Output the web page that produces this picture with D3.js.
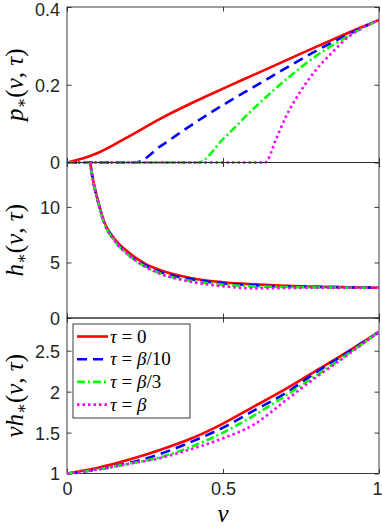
<!DOCTYPE html>
<html>
<head>
<meta charset="utf-8">
<script src="https://cdn.jsdelivr.net/npm/d3@7"></script>
<style>
  body { margin: 0; background: #fff; }
  svg { display: block; }
  .tick text { font-family: "Liberation Sans", Arial, sans-serif; font-size: 18px; fill: #262626; }
  .tick line { stroke: #262626; stroke-width: 0.9; }
</style>
</head>
<body>
<svg id="chart" width="382" height="529"></svg>
<script>
// ---- data ----
var names = ["0", "β/10", "β/3", "β"];
var colors = ["#ff0000", "#0000ff", "#00ff00", "#ff00ff"];
var dashes = [null, "10,6", "8,3,2,3", "2.5,3"];
var serif = "'Liberation Serif', 'DejaVu Serif', serif";

// panel 1: p*(nu, tau)
var nuP0 = [0, 0.05, 0.1, 0.2, 0.3, 0.4, 0.5, 0.6, 0.7, 0.8, 0.9, 1.0];
var pRed = [0, 0.01, 0.025, 0.068, 0.113, 0.153, 0.19, 0.226, 0.262, 0.298, 0.333, 0.367];
var nuP1 = [0, 0.22, 0.3, 0.4, 0.5, 0.6, 0.7, 0.8, 0.9, 1.0];
var pBlue = [0, 0, 0.042, 0.097, 0.148, 0.195, 0.242, 0.288, 0.329, 0.367];
var nuP2 = [0, 0.42, 0.5, 0.6, 0.7, 0.8, 0.9, 1.0];
var pGreen = [0, 0, 0.06, 0.14, 0.212, 0.275, 0.325, 0.367];
var nuP3 = [0, 0.635, 0.67, 0.7, 0.75, 0.8, 0.85, 0.9, 0.95, 1.0];
var pMag = [0, 0, 0.06, 0.115, 0.185, 0.24, 0.283, 0.322, 0.348, 0.367];

// panel 2: h*(nu, tau)
var nuH = [0.07, 0.08, 0.09, 0.1, 0.12, 0.15, 0.2, 0.25, 0.3, 0.4, 0.5, 0.6, 0.7, 0.8, 0.9, 1.0];
var hRed = [15, 13.0, 11.6, 10.5, 8.6, 7.2, 5.85, 4.9, 4.3, 3.58, 3.22, 3.03, 2.9, 2.82, 2.77, 2.73];
var hBlue = [15, 12.9, 11.5, 10.4, 8.5, 7.1, 5.65, 4.75, 4.13, 3.48, 3.12, 2.95, 2.83, 2.8, 2.76, 2.73];
var hGreen = [15, 12.9, 11.5, 10.4, 8.5, 7.05, 5.6, 4.65, 4.0, 3.33, 3.0, 2.85, 2.79, 2.75, 2.73, 2.73];
var hMag = [15, 12.9, 11.5, 10.4, 8.5, 7.05, 5.6, 4.62, 3.97, 3.25, 2.86, 2.67, 2.7, 2.73, 2.72, 2.73];

// panel 3: nu*h*(nu, tau)
var nuN = [0, 0.1, 0.2, 0.3, 0.4, 0.5, 0.6, 0.7, 0.8, 0.9, 1.0];
var nhRed = [1, 1.07, 1.17, 1.29, 1.43, 1.61, 1.82, 2.03, 2.26, 2.49, 2.73];
var nhBlue = [1, 1.05, 1.13, 1.24, 1.39, 1.56, 1.77, 1.98, 2.24, 2.48, 2.73];
var nhGreen = [1, 1.05, 1.12, 1.2, 1.33, 1.5, 1.71, 1.95, 2.2, 2.46, 2.73];
var nhMag = [1, 1.05, 1.12, 1.19, 1.3, 1.43, 1.6, 1.89, 2.18, 2.45, 2.73];

var xTicks = [0, 0.5, 1];

var panels = [
    { top: 7, domain: [0, 0.4], ticks: [0, 0.2, 0.4], fmt: function (d) { return d === 0 ? "0" : d3.format(".1f")(d); },
      lab: "p", pre: "",
      series: [[nuP0, pRed], [nuP1, pBlue], [nuP2, pGreen], [nuP3, pMag]] },
    { top: 162.5, domain: [0, 14], ticks: [0, 5, 10], fmt: d3.format("d"),
      lab: "h", pre: "",
      series: [[nuH, hRed], [nuH, hBlue], [nuH, hGreen], [nuH, hMag]] },
    { top: 318, domain: [1, 2.9], ticks: [1, 1.5, 2, 2.5], fmt: function (d) { return String(d); },
      lab: "h", pre: "ν",
      series: [[nuN, nhRed], [nuN, nhBlue], [nuN, nhGreen], [nuN, nhMag]] }
];

var left = 67, right = 379, ph = 155.5;
var svg = d3.select("#chart");
var x = d3.scaleLinear().domain([0, 1]).range([left, right]);

panels.forEach(function (p, i) {
    var y = d3.scaleLinear().domain(p.domain).range([p.top + ph, p.top]);
    var g = svg.append("g");

    g.append("clipPath").attr("id", "clip" + i)
        .append("rect")
        .attr("x", left).attr("y", p.top - 1.5)
        .attr("width", right - left).attr("height", ph + 3);

    // axes box and ticks
    g.append("rect")
        .attr("x", left).attr("y", p.top)
        .attr("width", right - left).attr("height", ph)
        .attr("fill", "none").attr("stroke", "#262626").attr("stroke-width", 0.9);

    var ax = g.append("g").attr("transform", "translate(" + left + ",0)")
        .call(d3.axisLeft(y).tickValues(p.ticks).tickFormat(p.fmt).tickSize(-4.5).tickPadding(7));
    ax.select(".domain").remove();
    ax.selectAll("text").attr("dy", "0.36em");
    if (i === 0) {
        // top label sits on the picture's edge; nudge it down a little
        ax.selectAll("text").filter(function (d) { return d === 0.4; }).attr("dy", "0.45em");
    }

    var axr = g.append("g").attr("transform", "translate(" + right + ",0)")
        .call(d3.axisRight(y).tickValues(p.ticks).tickFormat("").tickSize(-4.5));
    axr.select(".domain").remove();

    var axt = g.append("g").attr("transform", "translate(0," + p.top + ")")
        .call(d3.axisTop(x).tickValues(xTicks).tickFormat("").tickSize(-4.5));
    axt.select(".domain").remove();

    var axb = g.append("g").attr("transform", "translate(0," + (p.top + ph) + ")")
        .call(d3.axisBottom(x).tickValues(xTicks).tickFormat(i === 2 ? d3.format("") : "").tickSize(-4.5).tickPadding(9));
    axb.select(".domain").remove();
    if (i === 2) {
        // keep the "1" inside the picture, as in the reference
        axb.selectAll("text").filter(function (d) { return d === 1; }).attr("dx", -2);
    }

    // curves
    var line = d3.line()
        .x(function (d) { return x(d[0]); })
        .y(function (d) { return y(d[1]); })
        .curve(d3.curveMonotoneX);

    var lines = g.append("g").attr("clip-path", "url(#clip" + i + ")");
    p.series.forEach(function (s, k) {
        var pts = s[0].map(function (v, j) { return [v, s[1][j]]; });
        lines.append("path")
            .attr("d", line(pts))
            .attr("fill", "none")
            .attr("stroke", colors[k])
            .attr("stroke-width", 2.6)
            .attr("stroke-dasharray", dashes[k]);
    });

    // y label
    var t = svg.append("text")
        .attr("transform", "translate(23," + (p.top + ph / 2) + ") rotate(-90)")
        .attr("text-anchor", "middle")
        .style("font-family", serif)
        .style("font-size", "25px");
    if (p.pre) t.append("tspan").style("font-style", "italic").text(p.pre);
    t.append("tspan").style("font-style", "italic").text(p.lab);
    t.append("tspan").attr("dy", 4).style("font-size", "16px").text("∗");
    t.append("tspan").attr("dy", -4).text("(");
    t.append("tspan").style("font-style", "italic").text("ν");
    t.append("tspan").text(", ");
    t.append("tspan").style("font-style", "italic").text("τ");
    t.append("tspan").text(")");
});

// x label
svg.append("text")
    .attr("x", x(0.5)).attr("y", 522)
    .attr("text-anchor", "middle")
    .style("font-family", serif)
    .style("font-size", "25px").style("font-style", "italic")
    .text("ν");

// legend
var lg = svg.append("g");
lg.append("rect")
    .attr("x", 73).attr("y", 324).attr("width", 117).attr("height", 94)
    .attr("fill", "#fff").attr("stroke", "#262626").attr("stroke-width", 0.9);

names.forEach(function (n, k) {
    var ry = 336.5 + k * 22.7;
    lg.append("line")
        .attr("x1", 77).attr("x2", 108).attr("y1", ry).attr("y2", ry)
        .attr("stroke", colors[k]).attr("stroke-width", 2.6)
        .attr("stroke-dasharray", dashes[k]);
    var t = lg.append("text")
        .attr("x", 110).attr("y", ry).attr("dy", "0.33em")
        .style("font-family", serif)
        .style("font-size", "19px");
    t.append("tspan").style("font-style", "italic").text("τ");
    t.append("tspan").text(" = ");
    if (n.charAt(0) === "β") {
        t.append("tspan").style("font-style", "italic").text("β");
        t.append("tspan").text(n.slice(1));
    } else {
        t.append("tspan").text(n);
    }
});
</script>
</body>
</html>
